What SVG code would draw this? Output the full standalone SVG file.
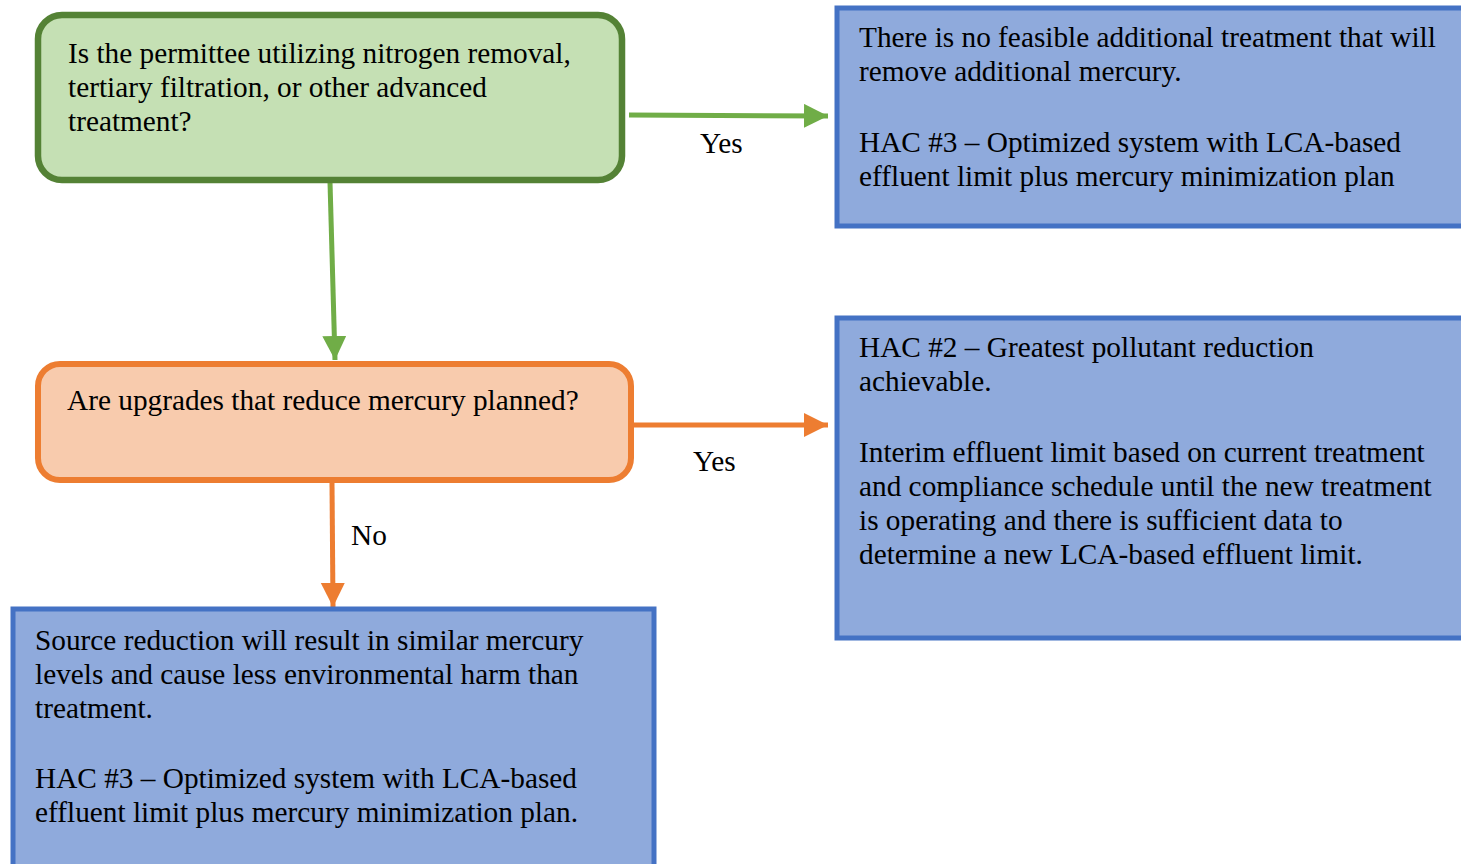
<svg xmlns="http://www.w3.org/2000/svg" width="1461" height="864" viewBox="0 0 1461 864">
<style>
.t{font-family:'Liberation Serif', 'DejaVu Serif', serif;font-size:29.3px;fill:#000}
.blue{fill:#8FAADC;stroke:#4472C4;stroke-width:5}
.gl{stroke:#70AD47;stroke-width:5;fill:none}
.ol{stroke:#ED7D31;stroke-width:5;fill:none}
</style>
<defs>
<marker id="ag" markerUnits="userSpaceOnUse" markerWidth="26" markerHeight="26" refX="24" refY="12" orient="auto"><path d="M0,0 L24,12 L0,24 Z" fill="#70AD47"/></marker>
<marker id="ao" markerUnits="userSpaceOnUse" markerWidth="26" markerHeight="26" refX="24" refY="12" orient="auto"><path d="M0,0 L24,12 L0,24 Z" fill="#ED7D31"/></marker>
</defs>
<rect width="1461" height="864" fill="#fff"/>
<g id="connectors">
<line class="gl" x1="629" y1="115" x2="828" y2="116" marker-end="url(#ag)"/>
<line class="gl" x1="330" y1="182" x2="335" y2="360" marker-end="url(#ag)"/>
<line class="ol" x1="633" y1="425" x2="828" y2="425" marker-end="url(#ao)"/>
<line class="ol" x1="332" y1="483" x2="333" y2="607" marker-end="url(#ao)"/>
<text class="t" x="700" y="153">Yes</text>
<text class="t" x="693" y="471">Yes</text>
<text class="t" x="351" y="545">No</text>
</g>
<g id="q1">
<rect x="38" y="15" width="584" height="165" rx="24" fill="#C5E0B4" stroke="#548235" stroke-width="6.5"/>
<text class="t" x="68" y="63">Is the permittee utilizing nitrogen removal,</text>
<text class="t" x="68" y="97">tertiary filtration, or other advanced</text>
<text class="t" x="68" y="131">treatment?</text>
</g>
<g id="q2">
<rect x="38" y="364" width="593" height="116" rx="22" fill="#F8CBAD" stroke="#ED7D31" stroke-width="6"/>
<text class="t" x="67" y="410">Are upgrades that reduce mercury planned?</text>
</g>
<g id="r1">
<rect class="blue" x="837" y="8" width="630" height="218"/>
<text class="t" x="859" y="47">There is no feasible additional treatment that will</text>
<text class="t" x="859" y="81">remove additional mercury.</text>
<text class="t" x="859" y="152">HAC #3 – Optimized system with LCA-based</text>
<text class="t" x="859" y="186">effluent limit plus mercury minimization plan</text>
</g>
<g id="r2">
<rect class="blue" x="837" y="318" width="630" height="320"/>
<text class="t" x="859" y="357">HAC #2 – Greatest pollutant reduction</text>
<text class="t" x="859" y="391">achievable.</text>
<text class="t" x="859" y="462">Interim effluent limit based on current treatment</text>
<text class="t" x="859" y="496">and compliance schedule until the new treatment</text>
<text class="t" x="859" y="530">is operating and there is sufficient data to</text>
<text class="t" x="859" y="564">determine a new LCA-based effluent limit.</text>
</g>
<g id="r3">
<rect class="blue" x="13" y="609" width="641" height="262"/>
<text class="t" x="35" y="650">Source reduction will result in similar mercury</text>
<text class="t" x="35" y="684">levels and cause less environmental harm than</text>
<text class="t" x="35" y="718">treatment.</text>
<text class="t" x="35" y="788">HAC #3 – Optimized system with LCA-based</text>
<text class="t" x="35" y="822">effluent limit plus mercury minimization plan.</text>
</g>
</svg>
